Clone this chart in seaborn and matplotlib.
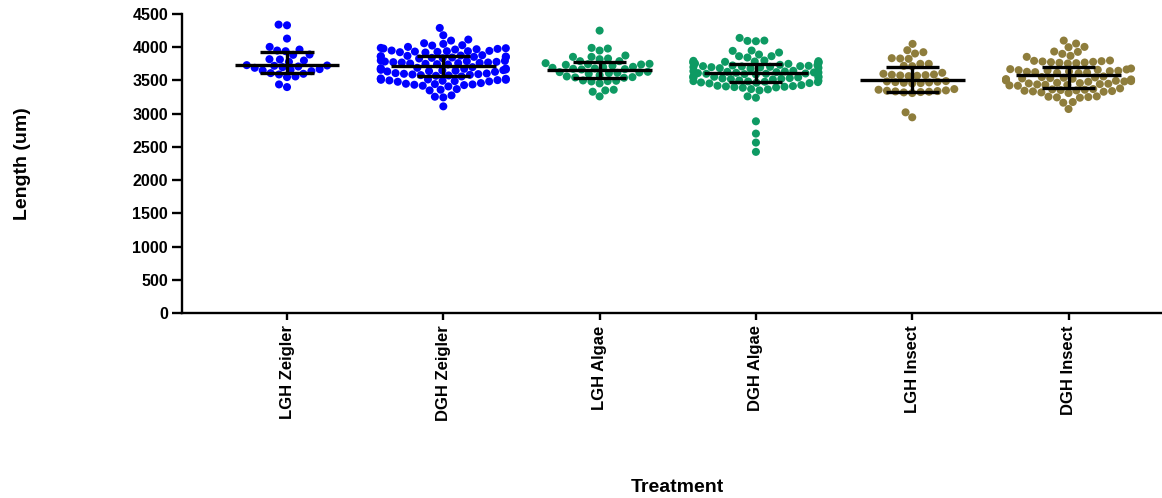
import numpy as np
import pandas as pd
import matplotlib
matplotlib.use("Agg")
import matplotlib.pyplot as plt
import seaborn as sns

# data
treatments = ["LGH Zeigler", "DGH Zeigler", "LGH Algae", "DGH Algae", "LGH Insect", "DGH Insect"]
colors = ["#0000FF", "#0000FF", "#0E9A63", "#0E9A63", "#8E7D3C", "#8E7D3C"]

lgh_zeigler = [4340, 4330, 4130, 4005, 3965, 3950, 3940, 3890, 3885, 3820, 3815, 3800, 3780,
               3730, 3725, 3720, 3710, 3700, 3690, 3670, 3660, 3650, 3640, 3610, 3600, 3590,
               3560, 3550, 3440, 3400]
dgh_zeigler = [4290, 4180, 4115, 4100, 4060, 4050, 4030, 4025, 4005,
               3990, 3985, 3980, 3975, 3970, 3965,
               3950, 3945, 3940, 3940, 3935, 3930, 3925, 3920,
               3880, 3875, 3870, 3865, 3860, 3860, 3855, 3850, 3845, 3840, 3835, 3830,
               3800, 3795, 3790, 3785, 3780, 3775, 3770, 3770, 3765, 3760, 3755, 3750, 3745, 3740,
               3700, 3690, 3685, 3680, 3675, 3670, 3665, 3660, 3655, 3650, 3645, 3640, 3635, 3630,
               3610, 3605, 3600, 3595, 3590, 3585, 3580, 3575, 3570, 3560,
               3530, 3525, 3520, 3515, 3510, 3510, 3505, 3500, 3495, 3490, 3485, 3480,
               3460, 3450, 3445, 3440, 3435, 3430, 3420, 3410,
               3370, 3360, 3350, 3275, 3255, 3245, 3110]
lgh_algae = [4250, 3990, 3980, 3950, 3875, 3855, 3855, 3830, 3820, 3790, 3790, 3760, 3750,
             3745, 3740, 3735, 3720, 3705, 3700, 3690, 3680, 3675, 3670, 3665, 3630, 3625,
             3620, 3615, 3610, 3600, 3580, 3560, 3550, 3545, 3540, 3500, 3495, 3490, 3485,
             3455, 3360, 3350, 3330, 3260]
dgh_algae = [4140, 4100, 4095, 4090,
             3950, 3945, 3920, 3890, 3865, 3865, 3845,
             3800, 3795, 3790, 3785, 3780, 3780, 3775, 3770, 3765, 3760, 3755, 3750,
             3735, 3730, 3725, 3720, 3715, 3715, 3710, 3705, 3700, 3700, 3695, 3690, 3685, 3680,
             3645, 3640, 3635, 3630, 3625, 3620, 3620, 3615, 3610, 3605, 3600, 3600, 3595, 3590,
             3565, 3560, 3555, 3550, 3545, 3545, 3540, 3535, 3530, 3525, 3520, 3515,
             3500, 3495, 3490, 3485, 3480, 3475, 3470, 3465, 3460, 3455,
             3430, 3420, 3415, 3410, 3405, 3400, 3395, 3390,
             3370, 3365, 3350, 3260, 3240, 2885, 2700, 2565, 2425]
lgh_insect = [4050, 3955, 3925, 3905, 3835, 3830, 3825, 3750, 3750, 3720, 3715,
              3615, 3600, 3590, 3585, 3580, 3575, 3570, 3565,
              3490, 3485, 3480, 3475, 3470, 3465, 3460, 3455,
              3370, 3360, 3350, 3345, 3340, 3335, 3330, 3325, 3320, 3310,
              3020, 2945]
dgh_insect = [4100, 4055, 4005, 4000, 3935, 3930, 3900, 3870, 3855,
              3800, 3795, 3790, 3785, 3780, 3775, 3770, 3765, 3760, 3755,
              3680, 3670, 3665, 3660, 3655, 3650, 3645, 3640, 3635, 3630, 3625, 3620, 3615, 3610,
              3560, 3550, 3545, 3540, 3535, 3530, 3525, 3520, 3515, 3510, 3505, 3500, 3495, 3490,
              3485, 3480,
              3465, 3460, 3455, 3450, 3445, 3440, 3435, 3430, 3425, 3420,
              3380, 3370, 3365, 3360, 3355, 3350, 3345, 3340, 3335, 3330, 3320, 3310,
              3260, 3255, 3250, 3245, 3240, 3175, 3165, 3070]

# centre line and error bar ends
centers = [3735, 3720, 3660, 3615, 3513, 3580]
err_low = [3610, 3574, 3540, 3483, 3328, 3390]
err_high = [3935, 3875, 3780, 3740, 3705, 3700]

yticks = [0, 500, 1000, 1500, 2000, 2500, 3000, 3500, 4000, 4500]

groups = [lgh_zeigler, dgh_zeigler, lgh_algae, dgh_algae, lgh_insect, dgh_insect]
df = pd.DataFrame({
    "treatment": np.repeat(treatments, [len(g) for g in groups]),
    "length": np.concatenate(groups),
})

sns.set_style("ticks", {"axes.edgecolor": "black", "text.color": "black",
                        "axes.labelcolor": "black", "xtick.color": "black",
                        "ytick.color": "black"})
plt.rcParams["font.family"] = ["Liberation Sans", "DejaVu Sans"]
plt.rcParams["font.weight"] = "bold"

fig = plt.figure(figsize=(11.62, 4.98), dpi=100)
ax = fig.add_axes([0.1566, 0.3715, 0.8434, 0.6004])

sns.swarmplot(data=df, x="treatment", y="length", hue="treatment", order=treatments,
              hue_order=treatments, palette=colors, size=5.8,
              legend=False, linewidth=0, warn_thresh=1, ax=ax)

pos = np.arange(len(treatments))
ax.hlines(centers, pos - 0.335, pos + 0.335, color="black", lw=2.4, zorder=5)
ax.vlines(pos, err_low, err_high, color="black", lw=2.4, zorder=5)
ax.hlines(err_low, pos - 0.17, pos + 0.17, color="black", lw=2.4, zorder=5)
ax.hlines(err_high, pos - 0.17, pos + 0.17, color="black", lw=2.4, zorder=5)

ax.set_ylim(0, 4500)
ax.set_xlim(-0.672, 5.598)
ax.set_yticks(yticks)
ax.set_yticklabels([str(t) for t in yticks], fontsize=11.5, fontweight="bold")
ax.set_xticks(pos)
ax.set_xticklabels(treatments, rotation=90, fontsize=12, fontweight="bold")

for side in ["top", "right"]:
    ax.spines[side].set_visible(False)
for side in ["left", "bottom"]:
    ax.spines[side].set_linewidth(1.7)
ax.tick_params(axis="y", length=7, width=1.7, pad=3)
ax.tick_params(axis="x", length=5, width=1.7, pad=4)

ax.set_ylabel("Length (um)", fontsize=14, fontweight="bold")
ax.set_xlabel("Treatment", fontsize=14, fontweight="bold")
ax.yaxis.set_label_coords(-0.154, 0.5)
ax.xaxis.set_label_coords(0.505, -0.555)

fig.savefig("out.png", dpi=100)
